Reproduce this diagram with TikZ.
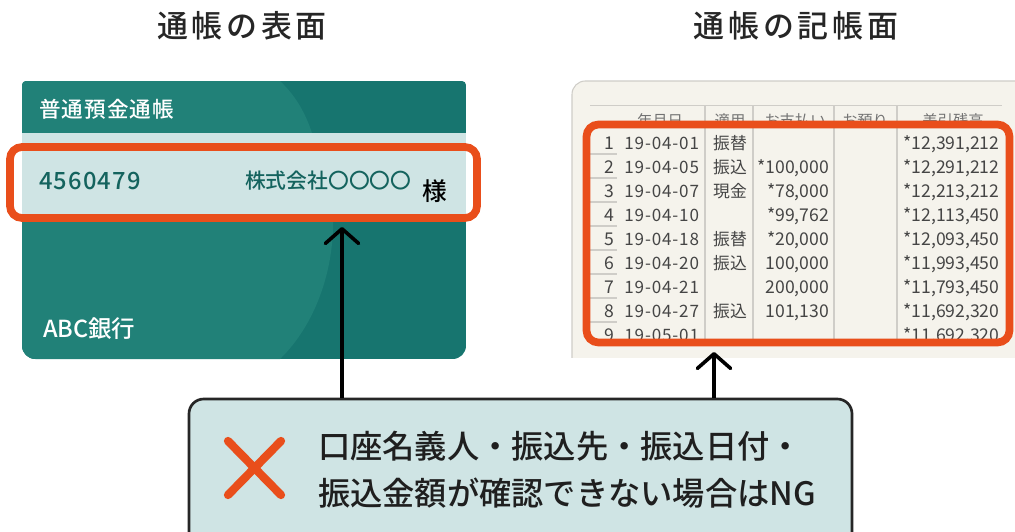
\documentclass[tikz,border=0pt]{standalone}
\usepackage{fontspec}
\usetikzlibrary{arrows.meta}
\newfontfamily\jp{Noto Sans CJK JP}
\newfontfamily\jpm{Noto Sans CJK JP Medium}
\newfontfamily\jpmwide[LetterSpace=12]{Noto Sans CJK JP Medium}
\newfontfamily\jpmsp[LetterSpace=5]{Noto Sans CJK JP Medium}
\newfontfamily\jpsp[LetterSpace=5]{Noto Sans CJK JP}
\newcommand\fz[1]{\fontsize{#1}{#1}\selectfont}
\definecolor{carddark}{HTML}{17756F}
\definecolor{cardlight}{HTML}{218178}
\definecolor{pale}{HTML}{CFE4E4}
\definecolor{redbox}{HTML}{E94E1B}
\definecolor{paper}{HTML}{F5F3EC}
\definecolor{rulegrey}{HTML}{CFCDC8}
\definecolor{ink}{HTML}{454545}
\tikzset{
  lbl/.style={inner sep=0pt,outer sep=0pt},
  title/.style={lbl,font=\jpmwide\fz{23.2},text=black!85},
  cardtxt/.style={lbl,anchor=west,text=white},
  teal/.style={lbl,anchor=west,text=carddark!85!black},
  redframe/.style={draw=redbox,line width=5.8pt,rounded corners=9pt},
  pointer/.style={draw=black,line width=2.7pt,-{Straight Barb[length=11pt,width=25pt,line width=2.7pt,round]}},
  rowno/.style={lbl,anchor=base east,text=ink,font=\jp\fz{13.2}},
  cell/.style={lbl,anchor=base east,text=ink,font=\jp\fz{13.2}},
  datecell/.style={lbl,anchor=base east,text=ink,font=\jpsp\fz{12.8}},
  kind/.style={lbl,anchor=base,text=ink,font=\jp\fz{12.6}},
  head/.style={lbl,text=black!55,font=\jp\fz{11.5}},
  rulev/.style={draw=rulegrey,line width=.8pt},
  msgline/.style={lbl,anchor=west,text=black!88,font=\jpm\fz{24.2}},
}
\begin{document}
\begin{tikzpicture}[x=0.75pt,y=-0.75pt]
\useasboundingbox (0,0) rectangle (1015,532);
\clip (0,0) rectangle (1015,532);
\fill[white] (0,0) rectangle (1015,532);

\node[title] (t1) at (242,26) {通帳の表面};
\node[title] (t2) at (796,26) {通帳の記帳面};

% card
\begin{scope}
  \clip[rounded corners=3pt] (22,200) -- (22,81) -- (466,81) -- (466,200)
     [rounded corners=10pt] -- (466,359) -- (22,359) -- cycle;
  \fill[carddark] (22,81) rectangle (466,359);
  \fill[cardlight] (22,81) -- (280,81) .. controls (297,97) and (306,115) .. (312,133)
     -- (312,214) -- (333,214) .. controls (335,270) and (315,325) .. (280,359) -- (22,359) -- cycle;
  \fill[pale] (22,133) rectangle (466,214);
\end{scope}
\node[cardtxt,font=\jpmsp\fz{16.2}] (bk) at (39,109) {普通預金通帳};
\node[teal,font=\jpmsp\fz{17.8}] (num) at (39,181) {4560479};
\node[teal,font=\jpm\fz{15.6}] (co) at (245,181) {株式会社〇〇〇〇};
\node[lbl,text=black,font=\jpm\fz{18.5}] (sama) at (435,191) {様};
\node[cardtxt,font=\jpm\fz{17.6}] (abc) at (43,329) {ABC銀行};

% passbook page
\path[fill=paper,draw=rulegrey,line width=.8pt,rounded corners=10pt] (572,358) -- (572,81) -- (1030,81) -- (1030,358);
\fill[white] (560,358) rectangle (1015,372);
\draw[rulev,line width=1pt] (590,105.5) -- (1002,105.5);
\foreach \vx in {705,753,834,897}{\draw[rulev] (\vx,106) -- (\vx,340);}
\foreach \ty in {154,178,202,226,250,274,298,322}{\draw[rulev] (590,\ty) -- (617,\ty);}
\begin{scope}
  \clip (575,100) rectangle (1010,124);
  \node[head] (h1) at (660,121) {年月日};
  \node[head] (h2) at (730,121) {適用};
  \node[head] (h3) at (795,121) {お支払い};
  \node[head] (h4) at (865,121) {お預り};
  \node[head] (h5) at (953,121) {差引残高};
\end{scope}
\begin{scope}
  \clip (575,124) rectangle (1010,342);
  \foreach \ry/\no/\dt/\kd/\pay/\bal in {
    149/1/19-04-01/振替//*12{,}391{,}212,
    173/2/19-04-05/振込/*100{,}000/*12{,}291{,}212,
    197/3/19-04-07/現金/*78{,}000/*12{,}213{,}212,
    221/4/19-04-10//*99{,}762/*12{,}113{,}450,
    245/5/19-04-18/振替/*20{,}000/*12{,}093{,}450,
    269/6/19-04-20/振込/100{,}000/*11{,}993{,}450,
    293/7/19-04-21//200{,}000/*11{,}793{,}450,
    317/8/19-04-27/振込/101{,}130/*11{,}692{,}320,
    341/9/19-05-01///*11{,}692{,}320}{
    \node[rowno] at (614,\ry) {\no};
    \node[datecell] at (699,\ry) {\dt};
    \node[kind] at (730,\ry) {\kd};
    \node[cell] at (829,\ry) {\pay};
    \node[cell] at (999.5,\ry) {\bal};
  }
\end{scope}

% red frames
\draw[redframe] (10,147) rectangle (477,218);
\draw[redframe] (586.5,124.5) rectangle (1009.5,342.5);

% message box
\node[draw=black!85,line width=2pt,fill=pale,rounded corners=11pt,minimum width=497.25pt,minimum height=121.5pt,inner sep=0pt] (msg) at (520.5,480) {};
\coordinate (tipa) at (342,227);
\coordinate (tipb) at (714,352);
\draw[pointer] (msg.north -| tipa) -- (tipa);
\draw[pointer] (msg.north -| tipb) -- (tipb);

\draw[redbox,line width=6.2pt,line cap=round] (228,441) -- (281,495);
\draw[redbox,line width=6.2pt,line cap=round] (281,441) -- (228,495);

\node[msgline] (m1) at (318,446) {口座名義人・振込先・振込日付・};
\node[msgline] (m2) at (318,493) {振込金額が確認できない場合はNG};
\end{tikzpicture}
\end{document}
